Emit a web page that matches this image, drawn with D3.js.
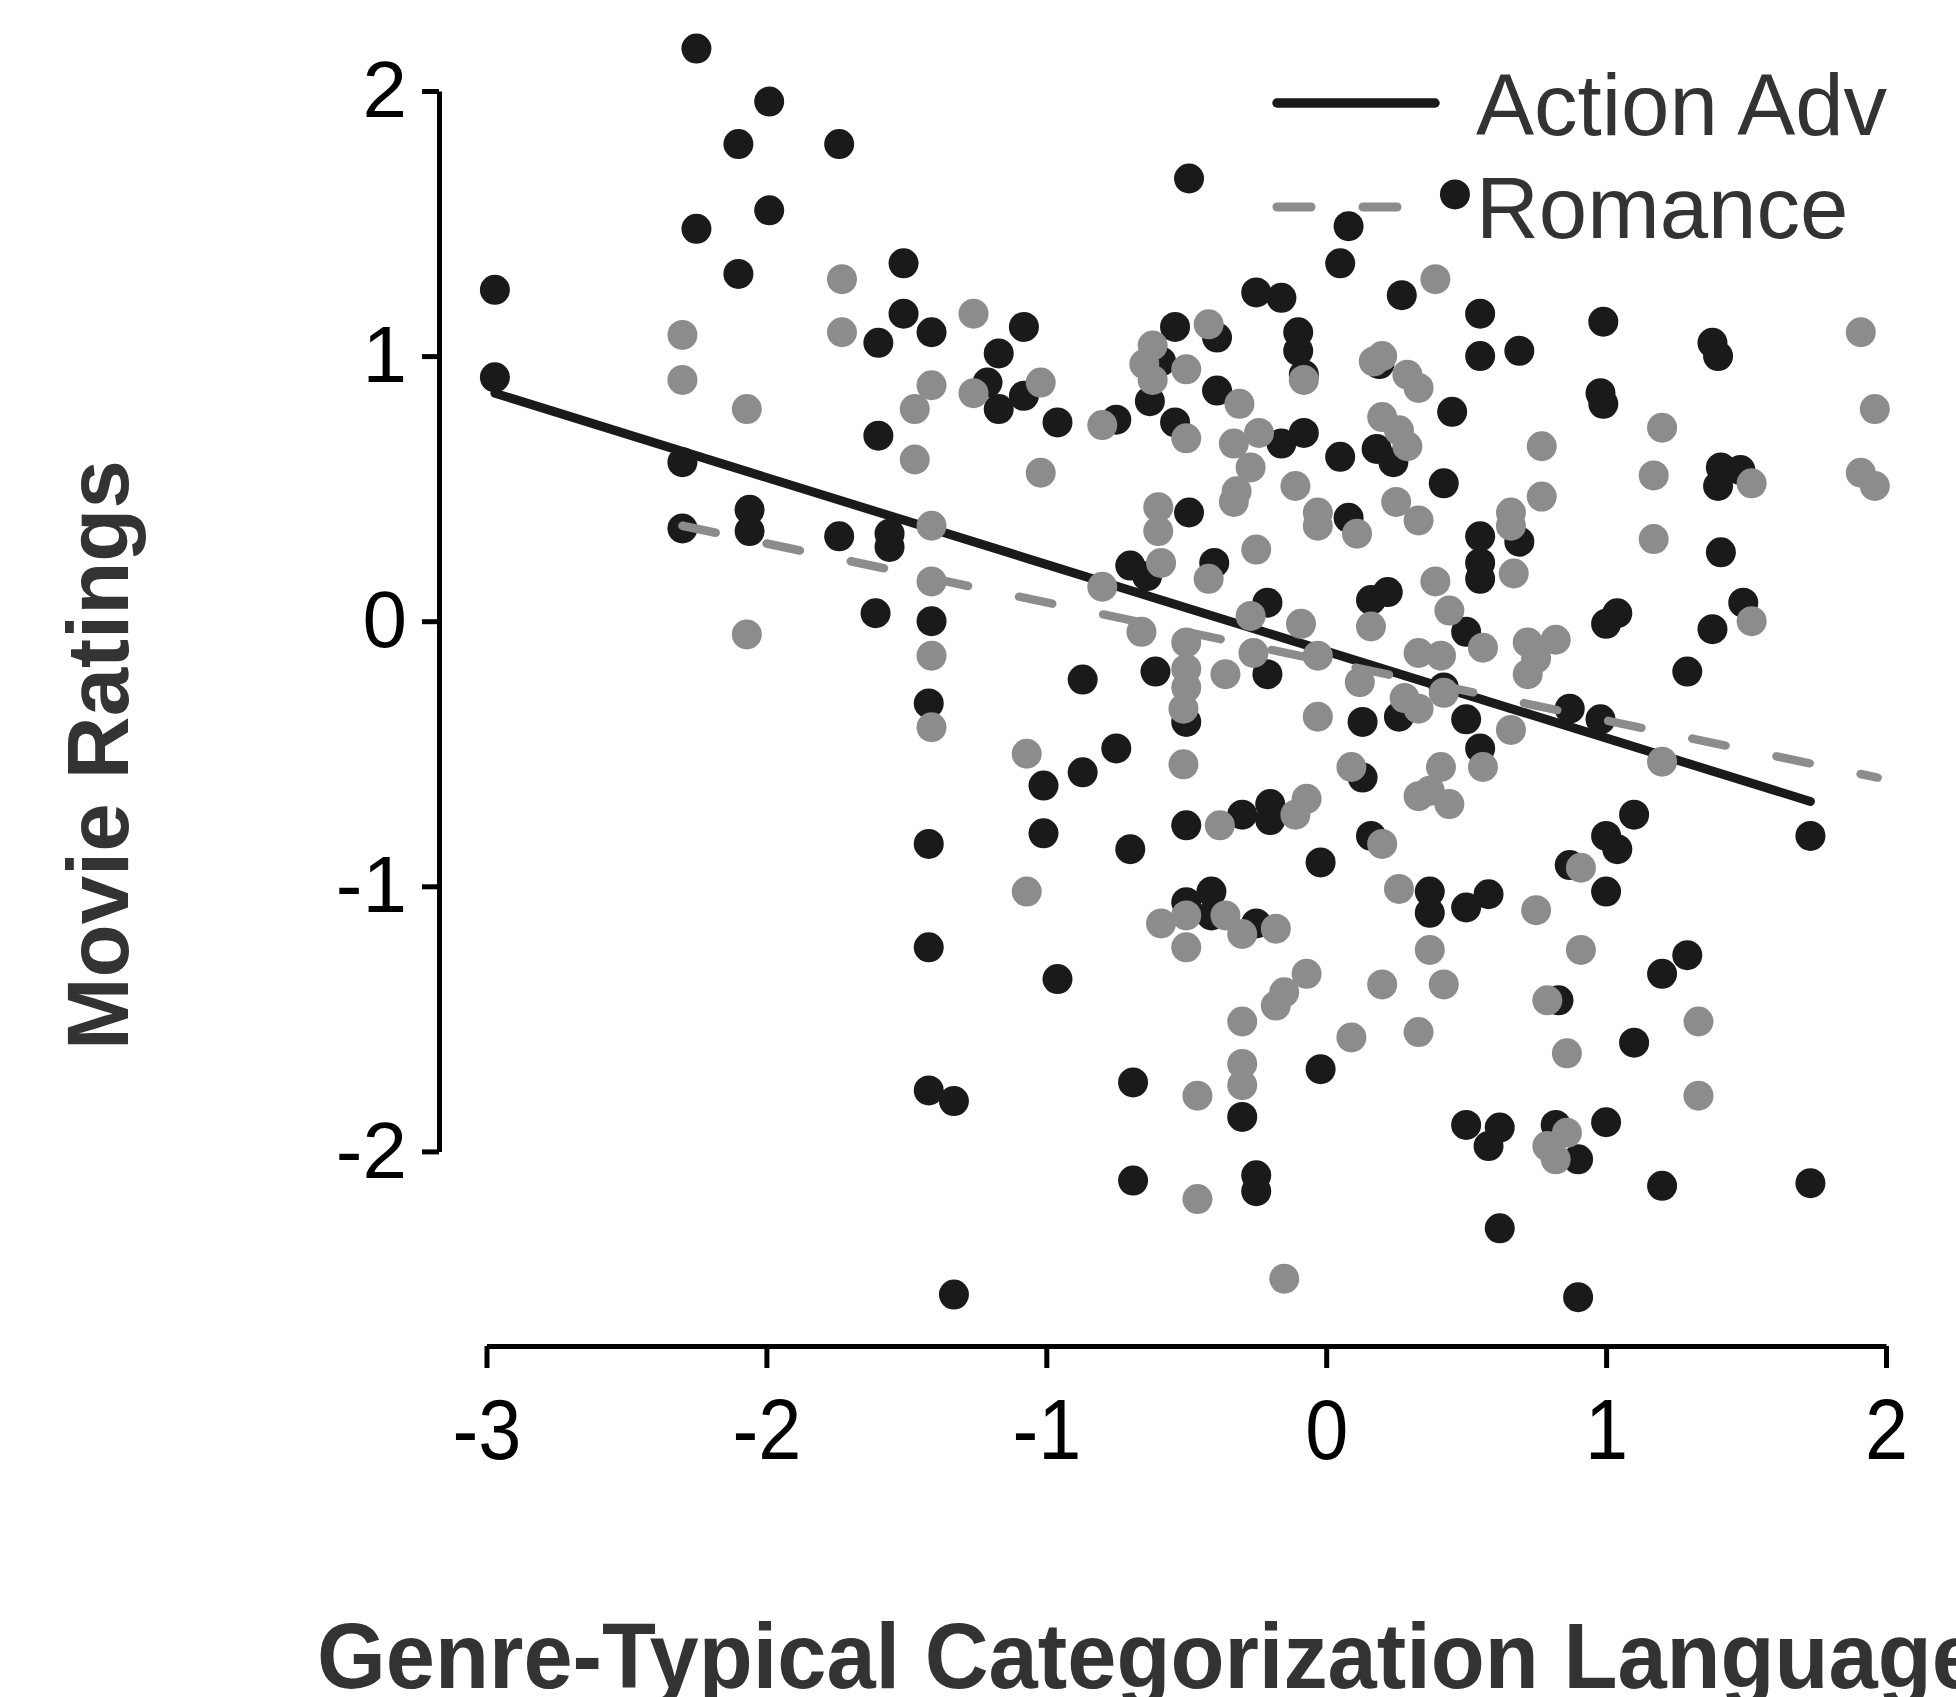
<!DOCTYPE html>
<html><head><meta charset="utf-8">
<script src="https://cdn.jsdelivr.net/npm/d3@7"></script>
<style>html,body{margin:0;padding:0;background:#fff}</style>
</head><body><svg id="chart" width="1956" height="1697"></svg>
<script>
// ---- data ----
const seriesNames = ["Action Adv", "Romance"];
const xTicks = [-3, -2, -1, 0, 1, 2];
const yTicks = [-2, -1, 0, 1, 2];
const xLabel = "Genre-Typical Categorization Language";
const yLabel = "Movie Ratings";

const actionX = [-2.25,-1.99,-2.10,-1.74,-1.99,-2.25,-2.10,-2.97,-2.97,-2.30,-2.30,-2.06,-2.06,-1.74,-1.56,-1.56,-1.61,-1.60,-1.60,-1.51,
 -1.51,-1.41,-1.41,-1.42,-1.42,-1.42,-1.42,-1.33,-1.33,-1.08,-1.17,-1.21,-1.17,-1.08,-0.96,-1.01,-1.01,-0.87,-0.87,-0.96,
 -0.75,-0.75,-0.70,-0.70,-0.69,-0.69,-0.63,-0.64,-0.54,-0.54,-0.59,-0.61,-0.50,-0.50,-0.49,-0.49,-0.50,-0.41,-0.41,-0.39,
 -0.39,-0.40,-0.30,-0.25,-0.25,-0.25,-0.25,-0.30,-0.20,-0.20,-0.21,-0.21,-0.16,-0.10,-0.10,-0.08,-0.16,-0.08,-0.02,-0.02,
 0.05,0.08,0.05,0.08,0.13,0.13,0.16,0.22,0.18,0.24,0.27,0.26,0.16,0.37,0.37,0.42,0.42,0.46,0.45,0.50,
 0.50,0.55,0.55,0.55,0.55,0.55,0.55,0.58,0.50,0.50,0.58,0.62,0.62,0.69,0.69,0.83,0.82,0.87,0.87,0.90,
 0.90,0.99,0.98,0.99,0.98,1.00,1.04,1.00,1.04,1.00,1.00,1.10,1.10,1.20,1.20,1.29,1.29,1.38,1.40,1.41,
 1.40,1.38,1.41,1.49,1.48,1.73,1.73,0.19];
const actionY = [2.16,1.96,1.80,1.80,1.55,1.48,1.31,1.25,0.92,0.60,0.35,0.42,0.34,0.32,0.33,0.28,0.03,1.05,0.70,1.35,
 1.16,1.09,0.00,-0.31,-0.84,-1.23,-1.77,-1.81,-2.54,1.11,1.01,0.90,0.80,0.85,0.75,-0.62,-0.80,-0.57,-0.22,-1.35,
 -0.48,0.76,0.21,-0.86,-1.74,-2.11,0.83,0.17,0.75,1.11,0.98,-0.19,-0.77,-0.38,0.41,1.67,-1.06,-1.02,-1.11,1.07,
 0.87,0.22,-0.73,1.24,-1.14,-2.09,-2.15,-1.87,-0.69,-0.75,-0.20,0.07,1.22,1.09,1.02,0.93,0.67,0.71,-0.91,-1.69,
 1.35,1.49,0.62,0.39,-0.38,-0.59,0.08,0.11,0.65,0.60,1.23,-0.36,-0.81,-1.02,-1.10,0.52,-0.25,1.61,0.79,-0.04,
 -0.37,0.32,0.22,0.16,-0.48,1.16,1.00,-1.03,-1.08,-1.90,-1.98,-1.91,-2.29,1.02,0.30,-1.43,-1.90,-0.92,-0.33,-2.03,
 -2.55,1.13,0.86,0.82,-0.37,-0.01,0.03,-0.81,-0.86,-1.02,-1.89,-0.73,-1.59,-1.33,-2.13,-0.19,-1.26,1.05,1.00,0.58,
 0.51,-0.03,0.26,0.07,0.57,-0.81,-2.12,0.97];

const romanceX = [-1.73,-1.73,-2.30,-2.30,-2.07,-2.07,-1.41,-1.47,-1.47,-1.41,-1.41,-1.41,-1.41,-1.26,-1.26,-1.02,-1.02,-1.07,-1.07,-0.80,
 -0.80,-0.62,-0.65,-0.62,-0.42,-0.50,-0.50,-0.31,-0.33,-0.24,-0.27,-0.11,-0.08,0.17,0.20,0.20,0.25,-0.33,-0.32,-0.60,
 -0.60,-0.59,-0.42,-0.25,-0.03,-0.03,0.11,-0.66,-0.50,-0.50,-0.50,-0.51,-0.51,-0.36,-0.27,-0.26,-0.09,-0.03,0.12,0.16,
 -0.03,-0.38,-0.07,-0.11,0.09,0.20,0.26,-0.59,-0.50,-0.50,-0.36,-0.30,-0.18,-0.07,-0.15,-0.18,-0.30,-0.30,-0.30,-0.46,
 -0.46,-0.15,0.20,0.09,0.39,0.29,0.33,0.26,0.29,0.77,0.77,1.20,1.17,1.17,1.52,1.91,1.96,1.91,1.96,0.33,
 0.66,0.66,0.67,0.39,0.44,0.56,0.33,0.41,0.72,0.82,0.75,0.72,0.42,0.28,0.33,1.52,0.66,0.41,0.56,0.37,
 0.33,0.44,1.20,0.91,0.75,0.37,0.91,0.42,0.79,0.33,0.86,1.33,1.33,0.86,0.79,0.82];
const romanceY = [1.29,1.09,1.08,0.91,0.80,-0.05,0.89,0.80,0.61,0.36,0.15,-0.13,-0.40,1.16,0.86,0.90,0.56,-0.50,-1.02,0.74,
 0.13,1.04,0.97,0.91,1.12,0.95,0.69,0.82,0.67,0.71,0.58,0.51,0.91,0.98,1.00,0.77,0.45,0.45,0.49,0.43,
 0.34,0.22,0.16,0.27,0.41,0.36,0.33,-0.04,-0.08,-0.18,-0.25,-0.33,-0.54,-0.20,0.02,-0.12,-0.01,-0.13,-0.23,-0.02,
 -0.36,-0.77,-0.67,-0.73,-0.55,-0.84,-1.01,-1.14,-1.11,-1.23,-1.11,-1.18,-1.16,-1.33,-1.40,-1.45,-1.51,-1.67,-1.75,-1.79,
 -2.18,-2.48,-1.37,-1.57,1.29,0.93,0.88,0.72,0.66,0.66,0.47,0.73,0.55,0.31,0.52,1.09,0.80,0.56,0.51,0.38,
 0.41,0.36,0.18,0.15,0.04,-0.10,-0.12,-0.13,-0.08,-0.07,-0.14,-0.20,-0.27,-0.29,-0.33,0.00,-0.41,-0.55,-0.55,-0.64,
 -0.66,-0.69,-0.53,-0.93,-1.09,-1.24,-1.24,-1.37,-1.43,-1.55,-1.63,-1.51,-1.79,-1.93,-1.98,-2.03];

// fitted lines (end points)
const actionFitX = [-2.97, 1.73];
const actionFitY = [0.86, -0.68];
const romanceFitX = [-2.30, 1.97];
const romanceFitY = [0.36, -0.59];

// ---- drawing ----
const W = 1956, H = 1697;
const svg = d3.select("#chart");
svg.append("rect").attr("width", W).attr("height", H).attr("fill", "#fff");

const x = d3.scaleLinear().domain([-3, 2]).range([486.5, 1886]);
const y = d3.scaleLinear().domain([-2, 2]).range([1151.4, 91]);

const BLACK = "#1a1a1a", GREY = "#8c8c8c", TEXT = "#333333";
const FONT = "'Liberation Sans', Arial, Helvetica, sans-serif";

// axes
const gy = svg.append("g").attr("transform", "translate(439,0)")
  .call(d3.axisLeft(y).tickValues(yTicks).tickSize(17).tickSizeOuter(0).tickPadding(15).tickFormat(d => String(d)));
const gx = svg.append("g").attr("transform", "translate(0,1346)")
  .call(d3.axisBottom(x).tickValues(xTicks).tickSize(22).tickSizeOuter(0).tickPadding(30).tickFormat(d => String(d)));
[gx, gy].forEach(g => {
  g.select(".domain").attr("stroke", "#000").attr("stroke-width", 5);
  g.selectAll(".tick line").attr("stroke", "#000").attr("stroke-width", 5);
});
gy.selectAll(".tick text").attr("fill", "#000").style("font-family", FONT).style("font-size", "80px");
gx.selectAll(".tick text").attr("fill", "#000").style("font-family", FONT).style("font-size", "86px")
  .attr("transform", "scale(0.9,1)");

const act = actionX.map((v, i) => ({x: v, y: actionY[i]}));
const rom = romanceX.map((v, i) => ({x: v, y: romanceY[i]}));
const line = d3.line().x(d => x(d.x)).y(d => y(d.y));

svg.append("g").selectAll("circle").data(act).join("circle")
  .attr("cx", d => x(d.x)).attr("cy", d => y(d.y)).attr("r", 15).attr("fill", BLACK);
svg.append("path").datum(actionFitX.map((v, i) => ({x: v, y: actionFitY[i]})))
  .attr("d", line).attr("fill", "none").attr("stroke", BLACK).attr("stroke-width", 9).attr("stroke-linecap", "round");
svg.append("g").selectAll("circle").data(rom).join("circle")
  .attr("cx", d => x(d.x)).attr("cy", d => y(d.y)).attr("r", 15).attr("fill", GREY);
svg.append("path").datum(romanceFitX.map((v, i) => ({x: v, y: romanceFitY[i]})))
  .attr("d", line).attr("fill", "none").attr("stroke", GREY).attr("stroke-width", 8.5)
  .attr("stroke-linecap", "round").attr("stroke-dasharray", "34,52");

// legend
const leg = svg.append("g");
const legItems = [
  {name: seriesNames[0], color: BLACK, dash: null, w: 9.5, ly: 103, ty: 135},
  {name: seriesNames[1], color: GREY, dash: "34,52", w: 9, ly: 207, ty: 238}
];
legItems.forEach(it => {
  leg.append("line").attr("x1", 1277).attr("x2", 1435).attr("y1", it.ly).attr("y2", it.ly)
    .attr("stroke", it.color).attr("stroke-width", it.w).attr("stroke-linecap", "round")
    .attr("stroke-dasharray", it.dash);
  leg.append("text").attr("x", 1476).attr("y", it.ty).text(it.name)
    .attr("fill", TEXT).style("font-family", FONT).style("font-size", "87px");
});

// axis titles
svg.append("text").attr("transform", "translate(128,755) rotate(-90)")
  .attr("text-anchor", "middle").text(yLabel)
  .attr("fill", TEXT).style("font-family", FONT).style("font-size", "87px").style("font-weight", "bold");
svg.append("text").attr("x", 317).attr("y", 1688).text(xLabel)
  .attr("textLength", 1664).attr("lengthAdjust", "spacingAndGlyphs")
  .attr("fill", TEXT).style("font-family", FONT).style("font-size", "92px").style("font-weight", "bold");
</script>
</body></html>
